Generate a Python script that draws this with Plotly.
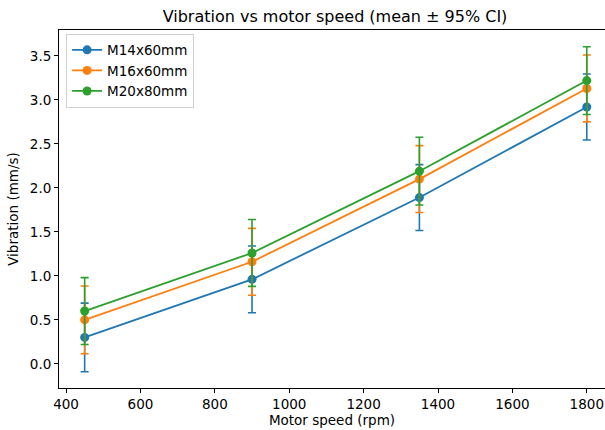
import plotly.graph_objects as go

speeds = [450, 900, 1350, 1800]
series_names = ["M14x60mm", "M16x60mm", "M20x80mm"]
m14_mean = [0.30, 0.96, 1.89, 2.92]
m14_ci = [0.39, 0.38, 0.375, 0.375]
m16_mean = [0.50, 1.16, 2.10, 3.13]
m16_ci = [0.385, 0.38, 0.38, 0.38]
m20_mean = [0.60, 1.26, 2.19, 3.22]
m20_ci = [0.38, 0.38, 0.385, 0.385]
colors = ["#1f77b4", "#ff7f0e", "#2ca02c"]

y_ticks = [0.0, 0.5, 1.0, 1.5, 2.0, 2.5, 3.0, 3.5]
x_ticks = [400, 600, 800, 1000, 1200, 1400, 1600, 1800]

FONT = "DejaVu Sans"
fig = go.Figure()
for name, mean, ci, c in zip(series_names, [m14_mean, m16_mean, m20_mean],
                             [m14_ci, m16_ci, m20_ci], colors):
    fig.add_trace(go.Scatter(
        x=speeds, y=mean, name=name, mode="lines+markers",
        line=dict(color=c, width=1.8),
        marker=dict(color=c, size=9),
        error_y=dict(type="data", array=ci, visible=True, color=c,
                     thickness=1.6, width=4),
    ))

fig.update_layout(
    width=605, height=430,
    margin=dict(l=59, r=0, t=30, b=42),
    plot_bgcolor="white", paper_bgcolor="white",
    font=dict(family=FONT, size=13.5, color="black"),
    title=dict(text="Vibration vs motor speed (mean ± 95% CI)",
               x=0.5055, xref="paper", xanchor="center",
               y=0.963, yref="container", yanchor="middle",
               font=dict(size=16, family=FONT, color="black")),
    showlegend=True,
    legend=dict(x=0.013, y=0.99, xanchor="left", yanchor="top",
                bgcolor="rgba(255,255,255,0.8)", bordercolor="#d0d0d0",
                borderwidth=1, font=dict(size=13.5, family=FONT),
                tracegroupgap=0),
    xaxis=dict(range=[381, 1849], tickvals=x_ticks,
               ticktext=[str(v) for v in x_ticks],
               ticklabeloverflow="allow",
               showgrid=False, zeroline=False, showline=True, mirror=True,
               linecolor="black", linewidth=1, ticks="outside", ticklen=4,
               tickcolor="black",
               title=dict(text="Motor speed (rpm)", standoff=3,
                          font=dict(size=13.5, family=FONT))),
    yaxis=dict(range=[-0.275, 3.795], tickvals=y_ticks,
               ticktext=[f"{v:.1f}" for v in y_ticks],
               showgrid=False, zeroline=False, showline=True, mirror=False,
               linecolor="black", linewidth=1, ticks="outside", ticklen=4,
               tickcolor="black",
               title=dict(text="Vibration (mm/s)", standoff=8,
                          font=dict(size=13.5, family=FONT))),
)

fig.write_html(
    "out.html",
    config={"displayModeBar": False},
    post_script="document.body.style.margin='0';"
                "document.body.style.overflow='hidden';",
)
